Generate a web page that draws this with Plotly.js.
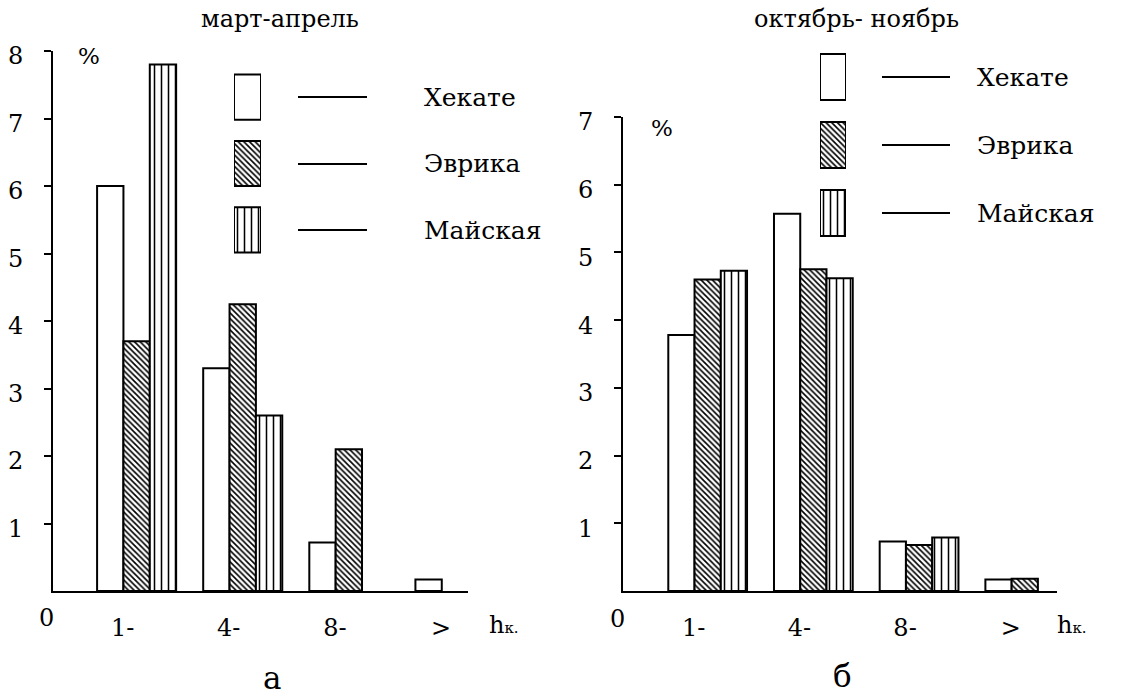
<!DOCTYPE html>
<html>
<head>
<meta charset="utf-8">
<script src="https://cdn.plot.ly/plotly-3.0.1.min.js"></script>
<style>
  html, body { margin: 0; padding: 0; background: #fff; }
  #chart { width: 1133px; height: 697px; }
</style>
</head>
<body>
<div id="chart"></div>
<script>
// ---------- data ----------
const categories = ['1-', '4-', '8-', '>'];
const seriesNames = ['Хекате', 'Эврика', 'Майская'];

// a: март-апрель
const hekateMarApr   = [6.0, 3.3, 0.72, 0.17];
const evrikaMarApr   = [3.7, 4.25, 2.1, null];
const maiskayaMarApr = [7.8, 2.6, null, null];

// б: октябрь- ноябрь
const hekateOctNov   = [3.78, 5.57, 0.73, 0.17];
const evrikaOctNov   = [4.6, 4.75, 0.68, 0.18];
const maiskayaOctNov = [4.73, 4.62, 0.79, null];

const leftTicks  = [1, 2, 3, 4, 5, 6, 7, 8];
const rightTicks = [1, 2, 3, 4, 5, 6, 7];

const panelTitles = ['март-апрель', 'октябрь- ноябрь'];
const panelLetters = ['а', 'б'];
const unitLabel = '%';
const xUnitLabel = 'h<span style="font-size:15px">к.</span>';
const originLabel = '0';

// ---------- styles ----------
const FONT = 'DejaVu Serif';
const W = 1133, H = 697;
const px = v => v / W;
const py = v => 1 - v / H;

const lineStyle = { color: '#000', width: 2 };
const seriesStyle = [
  { color: '#fff', line: lineStyle, pattern: { shape: '' } },
  { color: '#fff', line: lineStyle, pattern: { shape: '\\', fgcolor: '#000', bgcolor: '#fff', size: 4, solidity: 0.4 } },
  { color: '#fff', line: lineStyle, pattern: { shape: '|', fgcolor: '#000', bgcolor: '#fff', size: 7, solidity: 0.22 } }
];

function barTrace(values, idx, xa, ya) {
  return {
    type: 'bar', x: categories, y: values, name: seriesNames[idx],
    xaxis: xa, yaxis: ya, marker: seriesStyle[idx], showlegend: false,
    hoverinfo: 'x+y+name'
  };
}

function swatchTrace(xa, ya) {
  return {
    type: 'bar', orientation: 'h', y: seriesNames, x: seriesNames.map(() => 1),
    xaxis: xa, yaxis: ya, width: 0.68, showlegend: false, hoverinfo: 'y',
    marker: {
      color: '#fff', line: lineStyle,
      pattern: {
        shape: seriesStyle.map(s => s.pattern.shape),
        fgcolor: '#000', bgcolor: '#fff',
        size: [6, 4, 7], solidity: [0.3, 0.4, 0.22]
      }
    }
  };
}

const data = [
  barTrace(hekateMarApr, 0, 'x', 'y'),
  barTrace(evrikaMarApr, 1, 'x', 'y'),
  barTrace(maiskayaMarApr, 2, 'x', 'y'),
  barTrace(hekateOctNov, 0, 'x2', 'y2'),
  barTrace(evrikaOctNov, 1, 'x2', 'y2'),
  barTrace(maiskayaOctNov, 2, 'x2', 'y2'),
  swatchTrace('x3', 'y3'),
  swatchTrace('x4', 'y4')
];

const tickFont = { family: FONT, size: 24, color: '#000' };

function valueAxis(domain, range, tickvals, anchor) {
  return {
    domain: domain, range: range, anchor: anchor,
    tickmode: 'array', tickvals: tickvals,
    showline: true, linecolor: '#000', linewidth: 2,
    ticks: 'outside', ticklen: 7, tickwidth: 2, tickcolor: '#000',
    showgrid: false, zeroline: false, fixedrange: true,
    tickfont: tickFont, ticklabelstandoff: 16, ticklabelshift: 5
  };
}
function catAxis(domain, range, anchor) {
  return {
    domain: domain, range: range, anchor: anchor, type: 'category',
    showline: true, linecolor: '#000', linewidth: 2,
    ticks: '', showgrid: false, zeroline: false, fixedrange: true,
    tickfont: tickFont, ticklabelstandoff: 14, ticklabelshift: -14
  };
}
function legendX(domain, anchor) {
  return { domain: domain, range: [0, 1], anchor: anchor, visible: false, fixedrange: true };
}
function legendY(domain, position, ticklen, standoff) {
  return {
    domain: domain, anchor: 'free', position: position, side: 'right',
    type: 'category', autorange: 'reversed',
    showline: false, showgrid: false, zeroline: false, fixedrange: true,
    ticks: 'outside', ticklen: ticklen, tickwidth: 2, tickcolor: '#000',
    tickfont: { family: FONT, size: 25, color: '#000' },
    ticklabelstandoff: standoff
  };
}

const annFont = s => ({ family: FONT, size: s, color: '#000' });
function ann(text, x, y, size, xanchor) {
  return { text: text, xref: 'paper', yref: 'paper', x: px(x), y: py(y),
           xanchor: xanchor || 'center', yanchor: 'middle', showarrow: false, font: annFont(size) };
}

const layout = {
  width: W, height: H,
  margin: { l: 0, r: 0, t: 0, b: 0 },
  font: { family: FONT, color: '#000' },
  paper_bgcolor: '#fff', plot_bgcolor: 'rgba(0,0,0,0)',
  barmode: 'group', bargap: 0.255, bargroupgap: 0,
  showlegend: false,
  xaxis:  catAxis([px(53), px(468)], [-0.788, 3.123], 'y'),
  yaxis:  valueAxis([py(591), py(51)], [0, 8], leftTicks, 'x'),
  xaxis2: catAxis([px(623), px(1057)], [-0.801, 3.305], 'y2'),
  yaxis2: valueAxis([py(591), py(117)], [0, 7], rightTicks, 'x2'),
  xaxis3: legendX([px(234), px(261)], 'y3'),
  yaxis3: legendY([py(263), py(64)], px(297), 69, 52),
  xaxis4: legendX([px(820), px(846)], 'y4'),
  yaxis4: legendY([py(247), py(43)], px(881), 68, 22),
  annotations: [
    ann(panelTitles[0], 280, 19, 24),
    ann(panelTitles[1], 856, 19, 24),
    ann(unitLabel, 89, 56, 23),
    ann(unitLabel, 662, 128, 23),
    ann(originLabel, 46, 618, 24),
    ann(originLabel, 617, 619, 24),
    ann(xUnitLabel, 487, 625, 24, 'left'),
    ann(xUnitLabel, 1055, 625, 24, 'left'),
    ann(panelLetters[0], 272, 678, 31),
    ann(panelLetters[1], 842, 676, 31)
  ]
};

Plotly.newPlot('chart', data, layout, { displayModeBar: false, staticPlot: false });
</script>
</body>
</html>
